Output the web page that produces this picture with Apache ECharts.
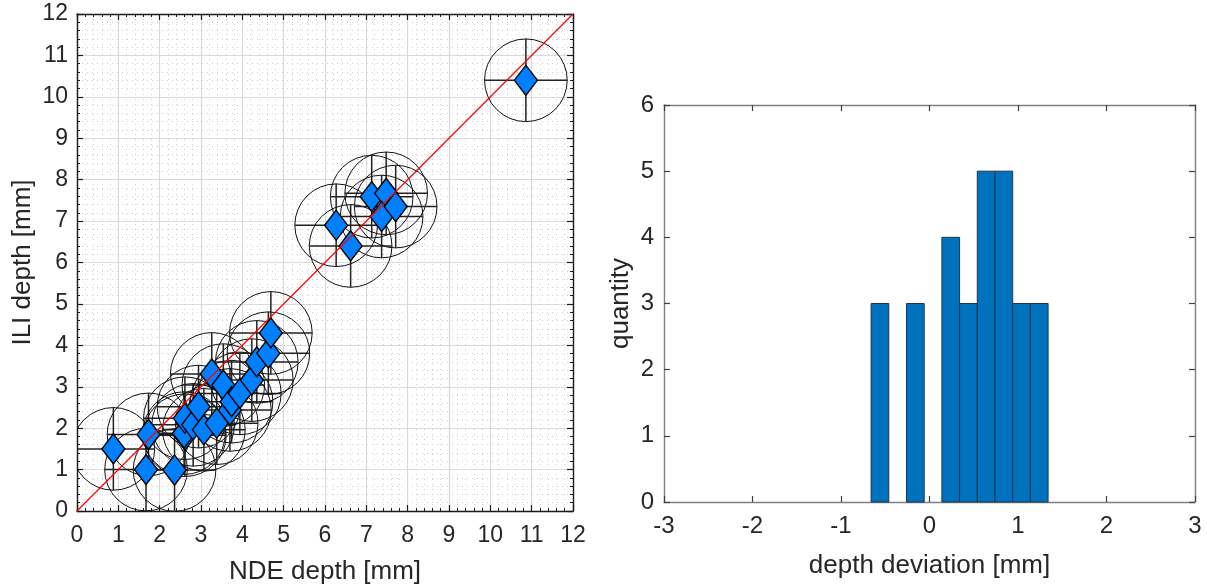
<!DOCTYPE html>
<html><head><meta charset="utf-8">
<script src="https://cdn.jsdelivr.net/npm/echarts@6/dist/echarts.min.js"></script>
<style>html,body{margin:0;padding:0;background:#fff}#c{width:1207px;height:587px}</style>
</head><body><div id="c"></div>
<script>
// ---- scatter: NDE vs ILI depth ----
const ndeDepth = [0.88, 1.73, 1.67, 2.36, 2.61, 2.59, 2.61, 2.81, 2.94, 3.07, 3.38, 3.26, 3.54, 3.70, 3.74, 3.94, 4.23, 4.35, 4.63, 4.69, 6.27, 6.62, 7.13, 7.48, 7.37, 7.71, 10.86];
const iliDepth = [1.50, 1.85, 1.00, 0.99, 1.83, 1.88, 2.24, 2.08, 2.52, 1.96, 2.12, 3.31, 3.04, 2.44, 2.64, 2.84, 3.16, 3.60, 3.81, 4.30, 6.90, 6.40, 7.59, 7.67, 7.11, 7.35, 10.40];
const tolerance = [1, 1, 1, 1, 1, 1, 1, 1, 1, 1, 1, 1, 1, 1, 1, 1, 1, 1, 1, 1, 1, 1, 1, 1, 1, 1, 1];
const depthTicks = [0, 1, 2, 3, 4, 5, 6, 7, 8, 9, 10, 11, 12];
const unityLine = [[0, 0], [12, 12]];
// ---- histogram: depth deviation ----
const binEdges = [-0.66, -0.46, -0.26, -0.06, 0.14, 0.34, 0.54, 0.74, 0.94, 1.14, 1.34];
const binCounts = [3, 0, 3, 0, 4, 3, 5, 5, 3, 3];
const devTicks = [-3, -2, -1, 0, 1, 2, 3];
const qtyTicks = [0, 1, 2, 3, 4, 5, 6];

const FONT = '"Liberation Sans", Arial, sans-serif';
const TXT = '#262626';

const circleData = ndeDepth.map((x, i) => [x, iliDepth[i], tolerance[i]]);
const diamondData = ndeDepth.map((x, i) => [x, iliDepth[i]]);
const histData = binCounts.map((c, i) => [binEdges[i], binEdges[i + 1], c]);

function depthAxis(pos, showLabels, name, nameGap, gridIndex) {
  return {
    type: 'value', gridIndex: gridIndex, position: pos,
    min: depthTicks[0], max: depthTicks[depthTicks.length - 1], interval: 1,
    name: name, nameLocation: 'middle', nameGap: nameGap,
    nameTextStyle: { fontFamily: FONT, fontSize: 26, color: TXT },
    axisLine: { show: true, onZero: false, lineStyle: { color: '#1a1a1a', width: 1.4 } },
    axisTick: { show: true, inside: true, length: 6, lineStyle: { color: '#1a1a1a', width: 1.2 } },
    minorTick: { show: true, splitNumber: 5, length: 3, lineStyle: { color: '#1a1a1a', width: 1 } },
    axisLabel: { show: showLabels, fontFamily: FONT, fontSize: 23, color: TXT, margin: pos === 'left' ? 9 : 13 },
    splitLine: { show: showLabels, lineStyle: { color: '#dadada', width: 1.2 } },
    minorSplitLine: { show: showLabels, lineStyle: { color: '#cfcfcf', width: 1, type: [1, 4] } }
  };
}
function histAxis(pos, min, max, showLabels, name, nameGap, margin) {
  return {
    type: 'value', gridIndex: 1, position: pos, min: min, max: max, interval: 1,
    name: name, nameLocation: 'middle', nameGap: nameGap,
    nameTextStyle: { fontFamily: FONT, fontSize: 26, color: TXT },
    axisLine: { show: true, onZero: false, lineStyle: { color: '#808080', width: 1.4 } },
    axisTick: { show: true, inside: true, length: 6, lineStyle: { color: '#404040', width: 1.2 } },
    axisLabel: { show: showLabels, fontFamily: FONT, fontSize: 24, color: TXT, margin: margin },
    splitLine: { show: false }
  };
}

const chart = echarts.init(document.getElementById('c'), null, { renderer: 'canvas' });
chart.setOption({
  animation: false,
  backgroundColor: '#fff',
  grid: [
    { left: 77, top: 14, width: 496, height: 497, containLabel: false, outerBoundsMode: 'none' },
    { left: 664, top: 105, width: 531, height: 397, containLabel: false, outerBoundsMode: 'none' }
  ],
  xAxis: [
    depthAxis('bottom', true, 'NDE depth [mm]', 48, 0),
    depthAxis('top', false, '', 0, 0),
    histAxis('bottom', devTicks[0], devTicks[devTicks.length - 1], true, 'depth deviation [mm]', 51, 12),
    histAxis('top', devTicks[0], devTicks[devTicks.length - 1], false, '', 0, 0)
  ],
  yAxis: [
    depthAxis('left', true, 'ILI depth [mm]', 41, 0),
    depthAxis('right', false, '', 0, 0),
    histAxis('left', qtyTicks[0], qtyTicks[qtyTicks.length - 1], true, 'quantity', 30, 10),
    histAxis('right', qtyTicks[0], qtyTicks[qtyTicks.length - 1], false, '', 0, 0)
  ],
  series: [
    {
      type: 'custom', xAxisIndex: 0, yAxisIndex: 0, z: 2, data: circleData,
      renderItem: function (params, api) {
        const c = api.coord([api.value(0), api.value(1)]);
        const r = api.size([api.value(2), api.value(2)]);
        const cs = params.coordSys;
        const clip = { type: 'rect', shape: { x: cs.x, y: cs.y, width: cs.width, height: cs.height } };
        return {
          type: 'group', clipPath: clip,
          children: [
            { type: 'circle', shape: { cx: c[0], cy: c[1], r: r[0] }, style: { fill: null, stroke: '#111', lineWidth: 1 } },
            { type: 'line', shape: { x1: c[0] - r[0], y1: c[1], x2: c[0] + r[0], y2: c[1] }, style: { stroke: '#222', lineWidth: 1.5 } },
            { type: 'line', shape: { x1: c[0], y1: c[1] - r[1], x2: c[0], y2: c[1] + r[1] }, style: { stroke: '#222', lineWidth: 1.5 } }
          ]
        };
      }
    },
    {
      type: 'scatter', xAxisIndex: 0, yAxisIndex: 0, z: 3, data: diamondData,
      symbol: 'diamond', symbolSize: [23, 30],
      itemStyle: { color: '#0080FF', borderColor: '#000', borderWidth: 1.4, opacity: 1 }
    },
    {
      type: 'line', xAxisIndex: 0, yAxisIndex: 0, z: 4, data: unityLine,
      symbol: 'none', lineStyle: { color: '#ff0000', width: 1.2 }
    },
    {
      type: 'custom', xAxisIndex: 2, yAxisIndex: 2, z: 2, data: histData,
      renderItem: function (params, api) {
        if (api.value(2) <= 0) return null;
        const p0 = api.coord([api.value(0), api.value(2)]);
        const p1 = api.coord([api.value(1), 0]);
        return {
          type: 'rect',
          shape: { x: p0[0], y: p0[1], width: p1[0] - p0[0], height: p1[1] - p0[1] },
          style: { fill: '#0072BD', stroke: '#1e3550', lineWidth: 1 }
        };
      }
    }
  ]
});
</script></body></html>
